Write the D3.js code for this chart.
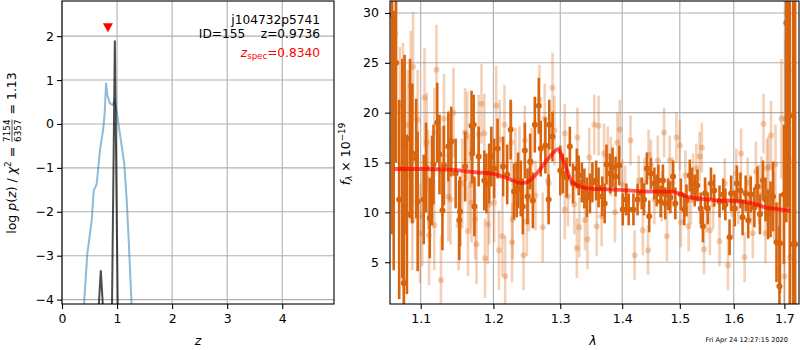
<!DOCTYPE html>
<html>
<head>
<meta charset="utf-8">
<script src="https://cdn.jsdelivr.net/npm/d3@7"></script>
<style>
  body { margin: 0; background: #fff; }
  svg { font-family: "DejaVu Sans", sans-serif; }
  .pre { white-space: pre; }
</style>
</head>
<body>
<div id="chart"></div>
<script>
// ---- left panel: log p(z) ----
const zTicks = [0, 1, 2, 3, 4];
const pzTicks = [-4, -3, -2, -1, 0, 1, 2];
const blueZ   = [0.38, 0.405, 0.46, 0.54, 0.575, 0.63, 0.69, 0.75, 0.775, 0.80, 0.823, 0.87, 0.92, 0.95, 0.98, 1.05, 1.13, 1.175, 1.217, 1.26, 1.29];
const blueLog = [-4.9, -4.01, -2.95, -2.19, -1.52, -1.37, -0.59, -0.10, 0.24, 0.94, 0.66, 0.47, 0.43, 0.52, 0.39, -0.21, -0.90, -1.73, -2.8, -4.01, -4.9];
const grayZ   = [0.62, 0.665, 0.705, 0.745, 0.79, 0.88, 0.905, 0.96, 1.015, 1.06];
const grayLog = [-5.5, -4.2, -3.33, -4.2, -5.5, -6.0, -4.5, 1.9, -4.5, -6.0];
const zSpec = 0.834, zSpecMark = 2.19;
const infoLines = ['j104732p5741', 'ID=155    z=0.9736'];
const zSpecText = '=0.8340';

// ---- right panel: spectrum ----
const lamTicks = [1.1, 1.2, 1.3, 1.4, 1.5, 1.6, 1.7];
const fluxTicks = [5, 10, 15, 20, 25, 30];
// [lambda, flux, err]
const lightPts = [
  [1.067,28.0,7],[1.073,20.6,6],[1.077,21.0,6],[1.078,3.2,6],[1.078,14.0,6],[1.083,18.8,5.5],[1.087,22.7,5.5],
  [1.089,9.2,5],[1.090,24.6,5.5],[1.096,19.3,5],[1.099,7.9,5],[1.102,9.6,5],[1.105,21.5,5],[1.108,17.0,5],
  [1.110,13.3,5],[1.111,7.7,5],[1.118,18.0,4.5],[1.118,8.7,4.5],[1.121,24.3,4.5],[1.127,3.2,4.5],[1.129,14.1,4.5],
  [1.131,19.4,4.5],[1.137,11.6,4.5],[1.138,15.7,4.5],[1.140,11.3,4.5],[1.144,20.0,4.5],[1.151,8.7,4.5],
  [1.156,12.9,4.5],[1.160,18.0,4.5],[1.163,17.6,4.5],[1.164,8.1,4.5],[1.167,12.8,4.5],
  [1.169,11.0,4],[1.174,9.3,4],[1.176,6.8,4],[1.179,17.8,4],[1.183,20.9,4],[1.187,17.9,4],[1.188,5.4,4],
  [1.192,8.8,4],[1.194,10.8,4],[1.201,11.0,4],[1.204,20.7,4],[1.208,6.2,4],[1.209,17.3,4],[1.213,7.6,4],
  [1.216,18.8,4],[1.217,3.6,4],[1.226,17.0,4],[1.227,7.0,4],[1.228,9.3,4],[1.232,14.5,4],[1.238,14.6,4],
  [1.244,5.7,3.5],[1.246,17.2,3.5],[1.249,9.1,3.5],[1.252,11.6,3.5],[1.256,15.0,3.5],[1.262,11.7,3.5],
  [1.268,21.3,3.5],[1.273,8.5,3.5],[1.276,19.4,3.5],[1.281,13.2,3.5],[1.282,12.9,3.5],
  [1.288,22.5,3.5],[1.291,18.2,3.5],[1.307,17.9,3],[1.307,10.3,3],[1.312,11.6,3],[1.322,10.8,3],[1.326,6.4,3],
  [1.327,17.5,3],[1.330,8.5,3],[1.339,9.2,3],[1.343,7.3,3],[1.346,15.5,3],[1.354,18.8,3],[1.358,8.6,3],
  [1.361,18.7,3],[1.366,9.6,3],[1.370,15.9,3],[1.376,15.6,3],[1.381,14.6,3],[1.388,10.0,3],[1.392,17.0,3],
  [1.396,18.3,3],[1.400,12.8,2.5],[1.405,12.2,2.5],[1.414,17.2,2.5],[1.421,5.7,2.5],
  [1.428,13.2,2.5],[1.435,8.2,2.5],[1.438,13.0,2.5],[1.444,6.2,2.5],[1.445,15.8,2.5],[1.449,14.8,2.5],
  [1.455,11.3,2.5],[1.461,15.2,2.5],[1.468,11.6,2.5],[1.472,18.0,2.5],[1.477,7.6,2.5],[1.482,15.2,2.5],
  [1.487,13.0,2.5],[1.494,17.5,2.5],[1.500,16.7,2.5],[1.502,9.0,2.5],[1.510,13.7,2.5],[1.516,8.6,2.5],
  [1.520,11.3,2.5],[1.524,13.4,2.5],[1.530,14.4,2.5],[1.536,15.6,2.5],[1.540,16.5,2.5],[1.544,6.3,2.5],
  [1.549,10.5,2.5],[1.555,8.2,2.5],[1.561,10.8,2.5],[1.573,7.1,2.5],
  [1.583,12.9,2.5],[1.589,4.7,2.5],[1.599,9.8,2.5],[1.605,13.9,2.5],[1.609,11.3,2.5],[1.614,15.9,2.5],
  [1.621,5.5,2.5],[1.627,13.0,2.5],[1.632,11.3,2.5],[1.637,7.9,2.5],[1.643,14.1,3],[1.649,11.8,3],
  [1.654,12.6,3],[1.658,18.9,3],[1.662,7.9,3],[1.665,14.4,3],[1.668,14.6,3],[1.673,17.7,3.5],[1.679,10.6,3.5],
  [1.682,14.8,4],[1.689,7.0,4],[1.694,19.4,6],[1.700,3.6,6],[1.702,19.4,8],[1.705,30.0,10],[1.709,24.3,10],[1.712,5.5,10]
];
const darkPts = [
  [1.063,29.8,22],[1.065,17.2,13],[1.068,25.0,10],[1.072,11.3,10],[1.076,14.4,11],[1.078,2.9,8],[1.079,16.8,9],
  [1.082,9.8,8],[1.086,17.4,8],[1.089,15.9,7],[1.094,15.4,6],[1.096,11.1,7],[1.104,11.3,4.5],[1.107,14.5,4.5],
  [1.112,9.4,4],[1.115,13.2,4.5],[1.117,14.8,4],[1.122,19.0,4],[1.125,15.8,4],[1.129,10.2,4],[1.131,14.7,4],
  [1.137,16.6,3.5],[1.141,17.1,3.5],[1.147,13.9,3.5],[1.152,9.2,4],[1.153,10.1,3.5],[1.160,14.6,3.5],
  [1.169,18.7,3.5],[1.170,15.9,3],[1.172,18.8,3],[1.173,10.6,3],[1.179,15.6,3],[1.187,13.2,3],[1.190,12.9,3],
  [1.194,13.9,3],[1.197,15.6,3],[1.201,14.4,3],[1.206,16.4,3],[1.214,14.6,3],[1.220,13.8,3],[1.225,18.3,3],
  [1.230,12.1,2.8],[1.234,12.3,2.8],[1.236,13.2,2.8],[1.240,12.4,2.8],[1.243,10.6,2.8],[1.246,16.2,2.8],
  [1.250,11.6,2.8],[1.254,15.1,2.8],[1.258,11.2,2.8],[1.261,18.8,2.8],[1.267,20.7,2.8],[1.270,16.4,2.8],
  [1.277,16.7,2.8],[1.282,11.3,2.5],[1.283,18.8,2.5],[1.288,17.6,2.5],[1.300,14.2,2.5],[1.304,13.9,2],
  [1.310,13.5,2],[1.315,16.6,2],[1.320,12.9,2],[1.326,14.4,2],[1.329,13.7,2],[1.334,13.0,2],[1.338,12.4,2],
  [1.342,11.5,2],[1.347,11.9,2],[1.351,13.0,2],[1.357,13.2,2],[1.361,12.5,2],[1.367,11.6,2],[1.371,10.9,2],
  [1.374,14.8,2],[1.380,13.9,2],[1.384,14.5,2],[1.389,13.6,2],[1.395,14.7,2],[1.401,10.3,1.6],[1.407,11.3,1.6],
  [1.411,10.3,1.6],[1.419,10.3,1.6],[1.426,11.3,1.6],[1.433,11.9,1.6],[1.437,11.3,1.6],[1.442,14.4,1.6],
  [1.446,9.6,1.6],[1.449,13.9,1.6],[1.455,12.9,1.6],[1.459,12.2,1.6],[1.462,13.2,1.6],[1.466,11.1,1.6],
  [1.470,13.2,1.6],[1.474,10.9,1.6],[1.479,11.8,1.6],[1.483,11.5,1.6],[1.488,13.6,1.6],[1.492,10.9,1.6],
  [1.502,11.8,1.6],[1.508,10.3,1.6],[1.512,11.2,1.6],[1.518,13.7,1.6],[1.522,12.9,1.6],[1.527,12.2,1.6],
  [1.532,12.7,1.6],[1.538,10.4,1.6],[1.542,8.6,1.6],[1.546,11.9,1.6],[1.551,10.4,1.6],[1.557,12.9,1.6],
  [1.563,12.2,1.6],[1.573,11.1,1.6],[1.580,11.8,1.6],[1.584,10.8,1.6],[1.592,7.5,1.8],[1.595,11.9,1.8],
  [1.602,10.4,1.8],[1.606,12.9,1.8],[1.613,12.2,1.8],[1.617,9.5,1.8],[1.623,11.9,1.8],[1.628,9.2,1.8],
  [1.633,11.8,1.8],[1.640,10.5,2],[1.646,12.6,2],[1.651,9.8,2],[1.657,13.2,2],[1.662,11.3,2.2],[1.667,9.8,2.5],
  [1.672,10.3,2.8],[1.677,11.6,3.5],[1.684,7.0,4],[1.690,2.6,6],[1.691,6.9,5],[1.699,11.8,7],[1.704,29.0,20],
  [1.707,24.5,14],[1.711,19.7,20],[1.718,6.8,25],[1.722,6.8,25]
];
const modelLam  = [1.066, 1.10, 1.14, 1.17, 1.20, 1.224, 1.24, 1.25, 1.26, 1.27, 1.28, 1.29, 1.296, 1.306, 1.318, 1.331, 1.351, 1.38, 1.41, 1.44, 1.485, 1.50, 1.518, 1.557, 1.612, 1.64, 1.662, 1.69, 1.712];
const modelFlux = [14.35, 14.35, 14.28, 14.05, 13.87, 13.33, 12.93, 13.05, 13.6, 14.4, 15.27, 16.05, 16.35, 15.0, 13.1, 12.6, 12.36, 12.3, 12.2, 12.09, 12.09, 11.85, 11.5, 11.26, 11.1, 10.85, 10.5, 10.3, 10.15];
const stamp = 'Fri Apr 24 12:27:15 2020';

(() => {
    const svg = d3.select('#chart').append('svg')
        .attr('width', 800)
        .attr('height', 350);

    const fs = 12.5;
    const gridCol = '#b0b0b0';
    const orange = '#d8640e';

    function clip(id, x0, x1, y0, y1) {
        svg.append('clipPath').attr('id', id)
            .append('rect').attr('x', x0).attr('y', y0).attr('width', x1 - x0).attr('height', y1 - y0);
    }

    function drawAxes(x, y, xt, yt, xfmt, yfmt, ypad) {
        let [x0, x1] = x.range(), [y1, y0] = y.range();
        let g = svg.append('g');
        xt.forEach(t => g.append('line').attr('x1', x(t)).attr('x2', x(t)).attr('y1', y0).attr('y2', y1)
            .attr('stroke', gridCol).attr('stroke-width', 1.1));
        yt.forEach(t => g.append('line').attr('x1', x0).attr('x2', x1).attr('y1', y(t)).attr('y2', y(t))
            .attr('stroke', gridCol).attr('stroke-width', 1.1));
        let ax = svg.append('g').attr('transform', `translate(0,${y1})`)
            .call(d3.axisBottom(x).tickValues(xt).tickSize(5).tickPadding(5.5).tickFormat(xfmt));
        let ay = svg.append('g').attr('transform', `translate(${x0},0)`)
            .call(d3.axisLeft(y).tickValues(yt).tickSize(5).tickPadding(ypad).tickFormat(yfmt));
        [ax, ay].forEach(a => {
            a.select('.domain').remove();
            a.selectAll('line').attr('stroke', '#000').attr('stroke-width', 1.1);
            a.selectAll('text').attr('font-size', fs).attr('font-family', '"DejaVu Sans", sans-serif').attr('fill', '#000');
        });
        return g;
    }

    function frame(x, y) {
        let [x0, x1] = x.range(), [y1, y0] = y.range();
        svg.append('rect').attr('x', x0).attr('y', y0).attr('width', x1 - x0).attr('height', y1 - y0)
            .attr('fill', 'none').attr('stroke', '#000').attr('stroke-width', 1.1);
    }

    // ---------- left panel ----------
    let xL = d3.scaleLinear().domain([0, 4.94]).range([62, 334]);
    let yL = d3.scaleLinear().domain([-4.1, 2.8]).range([304, 1]);
    clip('clipL', 62, 334, 1, 304);
    drawAxes(xL, yL, zTicks, pzTicks, d3.format('d'), d3.format('d'), 3);

    let lineL = d3.line().x(d => xL(d[0])).y(d => yL(d[1]));
    let pl = svg.append('g').attr('clip-path', 'url(#clipL)');
    pl.append('path').attr('d', lineL(d3.zip(blueZ, blueLog)))
        .attr('fill', 'none').attr('stroke', '#1f77b4').attr('stroke-opacity', 0.5).attr('stroke-width', 2);
    pl.append('path').attr('d', lineL(d3.zip(grayZ, grayLog)))
        .attr('fill', 'none').attr('stroke', '#000').attr('stroke-opacity', 0.7).attr('stroke-width', 2);
    // z_spec marker
    let mx = xL(zSpec), my = yL(zSpecMark);
    svg.append('path').attr('d', `M${mx - 5},${my - 4.5}L${mx + 5},${my - 4.5}L${mx},${my + 4.5}Z`).attr('fill', 'red');
    frame(xL, yL);

    // annotations
    let tx = 320;
    svg.append('text').attr('x', tx).attr('y', 23.5).attr('text-anchor', 'end').attr('font-size', 12.2).text(infoLines[0]);
    svg.append('text').attr('class', 'pre').attr('x', tx).attr('y', 38).attr('text-anchor', 'end').attr('font-size', 12.2).text(infoLines[1]);
    let zt = svg.append('text').attr('x', tx).attr('y', 56.5).attr('text-anchor', 'end').attr('font-size', 12.2).attr('fill', 'red');
    zt.append('tspan').attr('font-style', 'italic').text('z');
    zt.append('tspan').attr('font-size', 8.6).attr('dy', 2.5).text('spec');
    zt.append('tspan').attr('dy', -2.5).text(zSpecText);

    // axis labels
    svg.append('text').attr('x', 198).attr('y', 345).attr('text-anchor', 'middle')
        .attr('font-size', fs).attr('font-style', 'italic').text('z');

    // rotated math label: log p(z) / chi^2 = 7154/6357 = 1.13
    let gl = svg.append('g').attr('transform', 'translate(16,153) rotate(-90)');
    let inner = gl.append('g');
    let cx = 0;
    function piece(t, opt = {}) {
        let el = inner.append('text').attr('x', cx).attr('y', opt.dy || 0)
            .attr('font-size', opt.size || fs)
            .attr('font-style', opt.it ? 'italic' : 'normal').attr('class', 'pre').text(t);
        cx += el.node().getComputedTextLength();
        return el;
    }
    piece('log ');
    piece('p', { it: true });
    piece('(');
    piece('z', { it: true });
    piece(') / ');
    piece('χ', { it: true });
    piece('2', { size: 8.8, dy: -5 });
    piece(' = ');
    let num = inner.append('text').attr('font-size', 8.8).attr('y', -6).text('7154');
    let den = inner.append('text').attr('font-size', 8.8).attr('y', 4.5).text('6357');
    let fw = Math.max(num.node().getComputedTextLength(), den.node().getComputedTextLength());
    num.attr('x', cx + 1 + (fw - num.node().getComputedTextLength()) / 2);
    den.attr('x', cx + 1 + (fw - den.node().getComputedTextLength()) / 2);
    inner.append('line').attr('x1', cx + 1).attr('x2', cx + 1 + fw).attr('y1', -4).attr('y2', -4)
        .attr('stroke', '#000').attr('stroke-width', 0.7);
    cx += fw + 2;
    piece(' = 1.13');
    inner.attr('transform', `translate(${-cx / 2},0)`);

    // ---------- right panel ----------
    let xR = d3.scaleLog().domain([1.0603, 1.730]).range([390, 799]);
    let yR = d3.scaleLinear().domain([0.81, 31.2]).range([304, 1]);
    clip('clipR', 390, 799, 1, 304);
    drawAxes(xR, yR, lamTicks, fluxTicks, d3.format('.1f'), d3.format('d'), 6);

    let pr = svg.append('g').attr('clip-path', 'url(#clipR)');
    function errSeries(pts, op, r) {
        let g = pr.append('g');
        g.selectAll('line').data(pts).enter().append('line')
            .attr('x1', d => xR(d[0])).attr('x2', d => xR(d[0]))
            .attr('y1', d => yR(d[1] - d[2])).attr('y2', d => yR(d[1] + d[2]))
            .attr('stroke', orange).attr('stroke-opacity', op).attr('stroke-width', 2.6);
        g.selectAll('circle').data(pts).enter().append('circle')
            .attr('cx', d => xR(d[0])).attr('cy', d => yR(d[1])).attr('r', r)
            .attr('fill', orange).attr('fill-opacity', op);
    }
    errSeries(lightPts, 0.3, 3);
    errSeries(darkPts, 1, 3);
    pr.append('path')
        .attr('d', d3.line().curve(d3.curveMonotoneX).x(d => xR(d[0])).y(d => yR(d[1]))(d3.zip(modelLam, modelFlux)))
        .attr('fill', 'none').attr('stroke', 'red').attr('stroke-opacity', 0.65).attr('stroke-width', 3.8);
    frame(xR, yR);

    svg.append('text').attr('x', 593).attr('y', 345).attr('text-anchor', 'middle')
        .attr('font-size', fs).attr('font-style', 'italic').text('λ');

    let fl = svg.append('text').attr('transform', 'translate(349.5,154) rotate(-90)')
        .attr('text-anchor', 'middle').attr('font-size', fs);
    fl.append('tspan').attr('font-style', 'italic').text('f');
    fl.append('tspan').attr('font-style', 'italic').attr('font-size', 8.8).attr('dy', 2.5).text('λ');
    fl.append('tspan').attr('dy', -2.5).text(' × 10');
    fl.append('tspan').attr('font-size', 8.8).attr('dy', -5).text('−19');

    svg.append('text').attr('x', 788).attr('y', 341.5).attr('text-anchor', 'end')
        .attr('font-size', 6.6).text(stamp);
})();
</script>
</body>
</html>
